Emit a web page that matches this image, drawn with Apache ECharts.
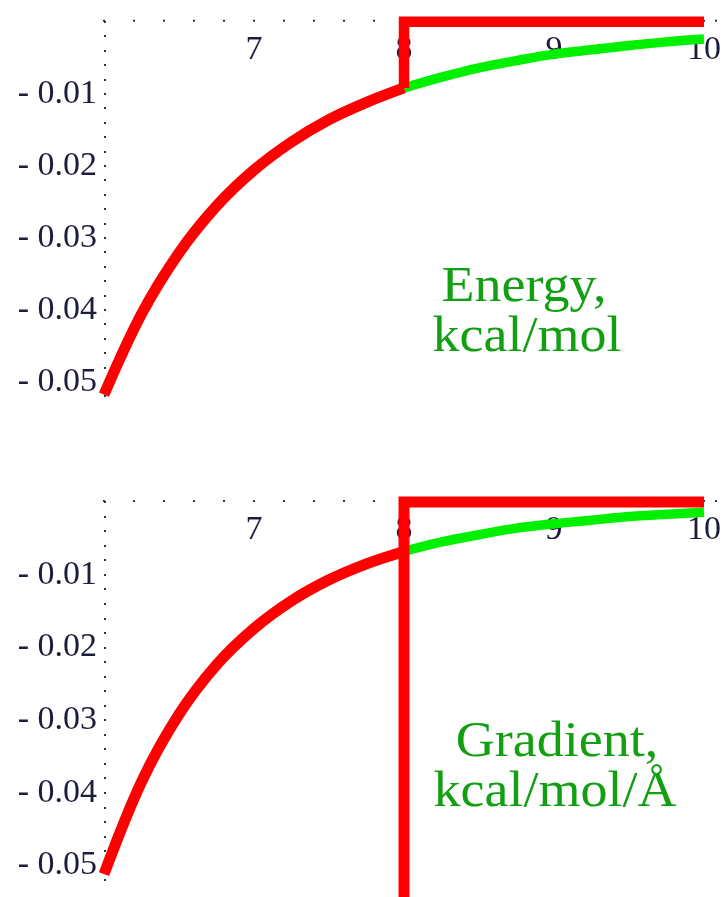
<!DOCTYPE html>
<html>
<head>
<meta charset="utf-8">
<script src="https://cdn.jsdelivr.net/npm/echarts@6/dist/echarts.min.js"></script>
<style>
  html, body { margin: 0; padding: 0; background: #ffffff; }
  #chart { width: 726px; height: 897px; }
</style>
</head>
<body>
<div id="chart"></div>
<script>
// Separation r (Å) at which the potential and its gradient are sampled
const rSamples = [6, 6.25, 6.5, 6.75, 7, 7.25, 7.5, 7.75, 8, 8.25, 8.5, 8.75, 9, 9.25, 9.5, 9.75, 10];
// Interaction energy, kcal/mol
const energy = [-0.0518, -0.0406, -0.0321, -0.0256, -0.0206, -0.0167, -0.0136, -0.0112, -0.0092,
                -0.0077, -0.0064, -0.0054, -0.0045, -0.0039, -0.0033, -0.0028, -0.0024];
// Gradient, kcal/mol/Å
const gradient = [-0.0512, -0.0385, -0.0292, -0.0224, -0.0174, -0.0136, -0.0107, -0.0085, -0.0068,
                  -0.0055, -0.0045, -0.0036, -0.0030, -0.0025, -0.0020, -0.0017, -0.0014];
// Cutoff distance and the truncated value beyond it
const cutoff = 8;
const rEnd = 10;
const truncatedValue = 0;
// Depth of the gradient spike at the cutoff (runs off the plot)
const spikeDepth = -0.08;
// Tick labels
const xTickLabels = [7, 8, 9, 10];
const yTickLabels = [-0.01, -0.02, -0.03, -0.04, -0.05];

const RED = '#ff0000';
const GREEN = '#00f000';
const TEXT_GREEN = '#12a012';
const LABEL = '#1c1c3c';
const SERIF = '"Liberation Serif", "Times New Roman", serif';

function pairs(xs, ys, from, to) {
  const out = [];
  xs.forEach((x, i) => { if (x >= from && x <= to) out.push([x, ys[i]]); });
  return out;
}
function valueAt(xs, ys, x) { return ys[xs.indexOf(x)]; }

// x axis sits along y = 0 (top of each panel), labels hang just below it
function xAxisFor(gridIndex) {
  return {
    type: 'value', gridIndex, min: 6, max: 10.08, interval: 0.2,
    position: 'top',
    axisLine: { show: false, onZero: false },
    axisTick: { show: true, inside: false, length: 2, lineStyle: { color: '#333', width: 2 } },
    splitLine: { show: false },
    axisLabel: {
      inside: true, margin: 11, fontFamily: SERIF, fontSize: 34, color: LABEL,
      formatter: v => {
        const k = xTickLabels.find(t => Math.abs(t - v) < 1e-6);
        return k === undefined ? '' : String(k);
      }
    }
  };
}
function yAxisFor(gridIndex) {
  return {
    type: 'value', gridIndex, min: -0.052, max: 0, interval: 0.002,
    axisLine: { show: false },
    axisTick: { show: true, inside: true, length: 2, lineStyle: { color: '#333', width: 2 } },
    splitLine: { show: false },
    axisLabel: {
      margin: 7, fontFamily: SERIF, fontSize: 34, color: LABEL,
      formatter: v => {
        const k = yTickLabels.find(t => Math.abs(t - v) < 1e-6);
        return k === undefined ? '' : '- ' + Math.abs(k).toFixed(2);
      }
    }
  };
}

function curve(name, data, color, width, xi, z) {
  return {
    name, type: 'line', xAxisIndex: xi, yAxisIndex: xi, data,
    showSymbol: false, smooth: 0.35, clip: false, z,
    lineStyle: { color, width, cap: 'butt', join: 'round' }
  };
}
function polyline(name, data, color, width, xi, z) {
  return {
    name, type: 'line', xAxisIndex: xi, yAxisIndex: xi, data,
    showSymbol: false, smooth: false, clip: false, z,
    lineStyle: { color, width, cap: 'butt', join: 'miter' }
  };
}

function caption(text, x, y) {
  return {
    type: 'text', x, y, scaleX: 1.08,
    style: { text, font: '50px ' + SERIF, fill: TEXT_GREEN, textAlign: 'center', textVerticalAlign: 'middle' }
  };
}

const chart = echarts.init(document.getElementById('chart'), null, { renderer: 'canvas' });
chart.setOption({
  animation: false,
  backgroundColor: '#ffffff',
  grid: [
    { left: 104, top: 21.7, width: 612, height: 374.4 },
    { left: 104, top: 502, width: 612, height: 378 }
  ],
  xAxis: [xAxisFor(0), xAxisFor(1)],
  yAxis: [yAxisFor(0), yAxisFor(1)],
  series: [
    // Energy: full potential beyond cutoff (green), truncated potential (red)
    curve('energy tail', pairs(rSamples, energy, cutoff, rEnd), GREEN, 9.5, 0, 2),
    curve('energy', pairs(rSamples, energy, 6, cutoff), RED, 11, 0, 3),
    polyline('energy truncation', [
      [cutoff, valueAt(rSamples, energy, cutoff)],
      [cutoff, truncatedValue],
      [rEnd, truncatedValue]
    ], RED, 10.5, 0, 3),
    // Gradient: full gradient beyond cutoff (green), truncated gradient with spike (red)
    curve('gradient tail', pairs(rSamples, gradient, cutoff, rEnd), GREEN, 9.5, 1, 2),
    curve('gradient', pairs(rSamples, gradient, 6, cutoff), RED, 11, 1, 3),
    polyline('gradient truncation', [
      [rEnd, truncatedValue],
      [cutoff, truncatedValue],
      [cutoff, spikeDepth]
    ], RED, 11, 1, 3)
  ],
  graphic: [
    caption('Energy,', 524, 288),
    caption('kcal/mol', 527, 338),
    caption('Gradient,', 557, 743),
    caption('kcal/mol/Å', 555, 793)
  ]
});
</script>
</body>
</html>
